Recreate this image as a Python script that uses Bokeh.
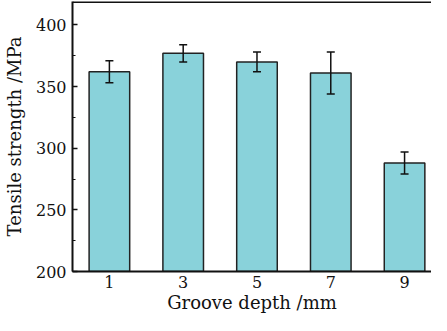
from bokeh.plotting import figure
from bokeh.models import (ColumnDataSource, Range1d, FixedTicker, SingleIntervalTicker,
                          Whisker, TeeHead, Span)
from bokeh.embed import file_html
from bokeh.resources import INLINE

depths = [1, 3, 5, 7, 9]
strength = [362, 377, 370, 361, 288]
errors = [9, 7, 8, 17, 9]
y_ticks = [200, 250, 300, 350, 400]

lower = [s - e for s, e in zip(strength, errors)]
upper = [s + e for s, e in zip(strength, errors)]
src = ColumnDataSource(dict(x=depths, top=strength, lower=lower, upper=upper))

FONT = "DejaVu Serif"

p = figure(width=431, height=315, output_backend="svg", toolbar_location=None,
           x_range=Range1d(0, 9.73), y_range=Range1d(200, 419),
           min_border_left=65, min_border_right=0, min_border_top=1, min_border_bottom=0,
           background_fill_color="white", border_fill_color="white")
p.outline_line_color = None
p.grid.visible = False

p.vbar(x="x", top="top", bottom=200, width=1.1, source=src,
       fill_color="#89D2DA", line_color="#222222", line_width=1.5)

w = Whisker(base="x", upper="upper", lower="lower", source=src,
            line_color="#111111", line_width=1.5, level="overlay",
            upper_head=TeeHead(size=8, line_color="#111111", line_width=1.5),
            lower_head=TeeHead(size=8, line_color="#111111", line_width=1.5))
p.add_layout(w)

p.add_layout(Span(location=418.6, dimension="width", line_color="#111111", line_width=2))

xa = p.xaxis[0]
xa.ticker = FixedTicker(ticks=depths)
xa.major_tick_out = 0
xa.major_tick_in = 0
xa.minor_tick_out = 0
xa.major_label_standoff = 4
xa.axis_label = "Groove depth /mm"
xa.axis_label_standoff = 1

ya = p.yaxis[0]
ya.ticker = SingleIntervalTicker(interval=50, num_minor_ticks=2)
ya.major_tick_in = 5
ya.major_tick_out = 0
ya.minor_tick_in = 3
ya.minor_tick_out = 0
ya.major_label_standoff = 6
ya.axis_label = "Tensile strength /MPa"
ya.axis_label_standoff = 8

for ax in (xa, ya):
    ax.axis_line_width = 2
    ax.axis_line_color = "#111111"
    ax.major_tick_line_color = "#111111" if ax is ya else None
    ax.minor_tick_line_color = "#111111" if ax is ya else None
    ax.major_tick_line_width = 1.5
    ax.minor_tick_line_width = 1.2
    ax.major_label_text_font = FONT
    ax.major_label_text_font_size = "16px"
    ax.major_label_text_color = "#111111"
    ax.axis_label_text_font = FONT
    ax.axis_label_text_font_size = "18px"
    ax.axis_label_text_font_style = "normal"
    ax.axis_label_text_color = "#111111"

open("out.html", "w").write(file_html(p, INLINE))
